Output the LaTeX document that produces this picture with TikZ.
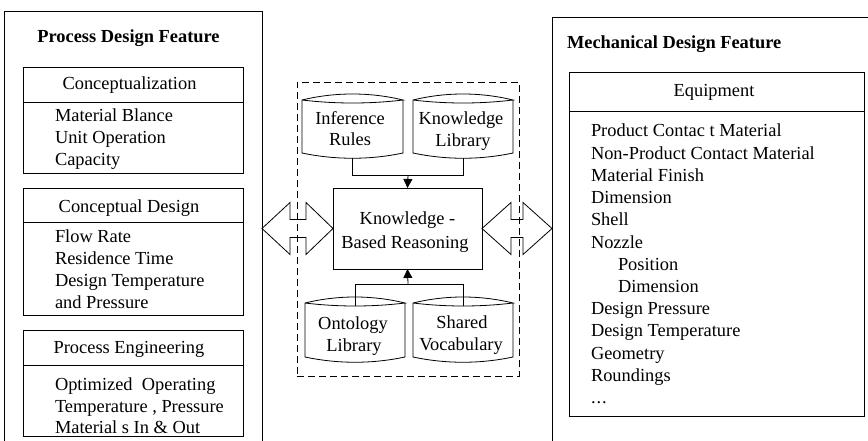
\documentclass[tikz,border=0pt]{standalone}
\usepackage{fontspec}
\setmainfont{Liberation Serif}
\usetikzlibrary{arrows.meta,calc}
\begin{document}
\begin{tikzpicture}[x=1pt,y=-1pt,
  line width=0.8pt,
  every node/.style={font=\fontsize{18.4}{22}\selectfont, inner sep=0pt, outer sep=0pt},
  box/.style={draw, anchor=north west},
  item/.style={anchor=base west},
  head/.style={anchor=base},
  ttl/.style={font=\fontsize{18.4}{22}\selectfont\bfseries},
  db/.style={minimum width=100pt, minimum height=53pt},
  tip/.style={-{Triangle[width=9pt,length=9pt]}},
  dsh/.style={dash pattern=on 7pt off 4pt}
]
\useasboundingbox (0,0) rectangle (868,441);
\clip (0,0) rectangle (868,441);

% ---------- left column ----------
\node[box, minimum width=258pt, minimum height=470pt] (lbox) at (4,11) {};
\node[head, ttl] (ltitle) at (128.5,43) {Process Design Feature};

\node[box, minimum width=220pt, minimum height=106pt] (c1) at (23,67) {};
\draw (c1.west |- 0,102) -- (c1.east |- 0,102);
\node[head] (c1h) at (129.5,90) {Conceptualization};
\node[item] (c1a) at (55,122) {Material Blance};
\node[item] (c1b) at (55,144) {Unit Operation};
\node[item] (c1c) at (55,166) {Capacity};

\node[box, minimum width=220pt, minimum height=127pt] (c2) at (23,188) {};
\draw (c2.west |- 0,222) -- (c2.east |- 0,222);
\node[head] (c2h) at (129,212) {Conceptual Design};
\node[item] (c2a) at (55,242) {Flow Rate};
\node[item] (c2b) at (55,264) {Residence Time};
\node[item] (c2c) at (55,286) {Design Temperature};
\node[item] (c2d) at (55,308) {and Pressure};

\node[box, minimum width=220pt, minimum height=106pt] (c3) at (23,330) {};
\draw (c3.west |- 0,365) -- (c3.east |- 0,365);
\node[head] (c3h) at (129,353) {Process Engineering};
\node[item] (c3a) at (55,390) {Optimized\ \ Operating};
\node[item] (c3b) at (55,412) {Temperature , Pressure};
\node[item] (c3c) at (55,433) {Material s In \& Out};

% ---------- middle ----------
\node[box, dsh, minimum width=222pt, minimum height=294pt] (kbs) at (297,82) {};

\node[db, minimum width=101pt] (ir) at (352.5,126.5) {};
\node[db] (kl) at (463,126.5) {};
\node[db, minimum height=54pt] (ol) at (355,330) {};
\node[db, minimum height=54pt] (sv) at (463,330) {};
\foreach \n in {ir,kl,ol,sv}{
  \draw (\n.north west) .. controls +(33,-8) and +(-33,-8) .. (\n.north east)
        .. controls +(-33,4) and +(33,4) .. (\n.north west)
        -- (\n.south west)
        .. controls +(33,7) and +(-33,7) .. (\n.south east)
        -- (\n.north east);
}
\node[head] (irt1) at (350,125) {Inference};
\node[head] (irt2) at (350,146) {Rules};
\node[head] (klt1) at (461,125) {Knowledge};
\node[head] (klt2) at (463,147) {Library};
\node[head] (olt1) at (353,329) {Ontology};
\node[head] (olt2) at (354,351) {Library};
\node[head] (svt1) at (462,328) {Shared};
\node[head] (svt2) at (461,350) {Vocabulary};

\node[box, minimum width=149pt, minimum height=81pt] (kbr) at (333,188) {};
\node[head] (kbrt1) at (407.5,225) {Knowledge -};
\node[head] (kbrt2) at (405,248) {Based Reasoning};

\coordinate (mt) at (408,175);
\coordinate (mb) at (408,284);
\draw ([yshift=-5pt]ir.south) -- (ir.south |- mt) -- (kl.south |- mt) -- ([yshift=-5pt]kl.south);
\draw[tip] (mt) -- (kbr.north);
\draw ([yshift=-3pt]ol.north) -- (ol.north |- mb) -- (sv.north |- mb) -- ([yshift=-3pt]sv.north);
\draw[tip] (mb) -- (kbr.south);

% ---------- double arrows ----------
\coordinate (la) at (kbr.west -| lbox.east);
\draw (la) -- ($(la)+(28,-26)$) -- ($(la)+(28,-9)$) -- ($(kbr.west)+(-27,-9)$)
  -- ($(kbr.west)+(-27,-26)$) -- (kbr.west) -- ($(kbr.west)+(-27,26)$)
  -- ($(kbr.west)+(-27,9)$) -- ($(la)+(28,9)$) -- ($(la)+(28,26)$) -- cycle;

% ---------- right column ----------
\node[box, minimum width=330pt, minimum height=460pt] (rbox) at (552,17) {};
\node[item, ttl] (rtitle) at (567,49) {Mechanical Design Feature};

\coordinate (ra) at (kbr.east -| rbox.west);
\draw (kbr.east) -- ($(kbr.east)+(29,-26)$) -- ($(kbr.east)+(29,-9)$) -- ($(ra)+(-29,-9)$)
  -- ($(ra)+(-29,-26)$) -- (ra) -- ($(ra)+(-29,26)$)
  -- ($(ra)+(-29,9)$) -- ($(kbr.east)+(29,9)$) -- ($(kbr.east)+(29,26)$) -- cycle;

\node[box, minimum width=295pt, minimum height=344pt] (eq) at (569,72) {};
\draw (eq.west |- 0,111) -- (eq.east |- 0,111);
\node[head] (eqh) at (714,97) {Equipment};
\foreach \x/\t [count=\i] in {591/Product Contac t Material,591/Non-Product Contact Material,591/Material Finish,591/Dimension,591/Shell,591/Nozzle,618/Position,618/Dimension,591/Design Pressure,591/Design Temperature,591/Geometry,591/Roundings}{
  \node[item] (eq\i) at (\x,{137+22.2*(\i-1)}) {\t};
}
\node[item] (eq13) at (591,403.4) {.\kern1pt.\kern1pt.};
\end{tikzpicture}
\end{document}
